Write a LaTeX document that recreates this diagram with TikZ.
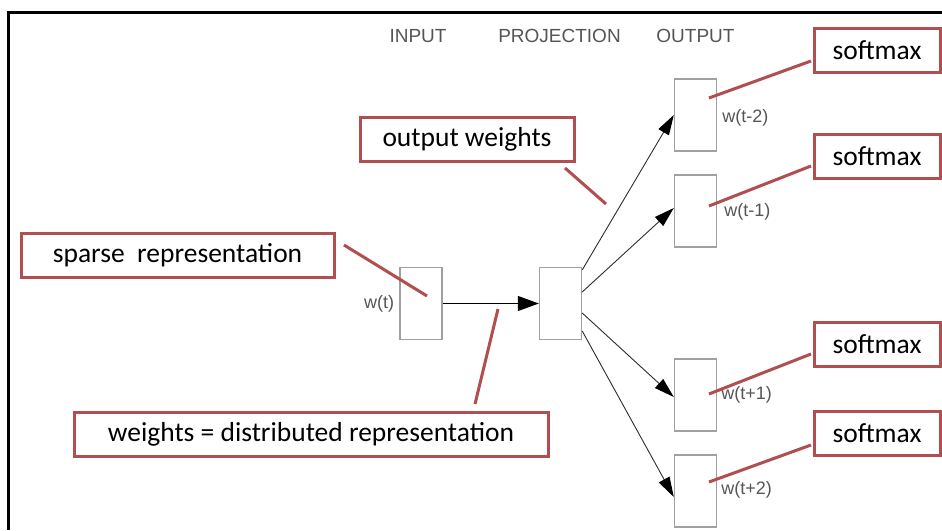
\documentclass[tikz,border=0pt]{standalone}
\usepackage{fontspec}
\setmainfont{Carlito}
\newfontfamily\labelfont{Liberation Sans}
\usetikzlibrary{arrows.meta,calc}
\definecolor{callred}{RGB}{176,78,80}
\definecolor{boxgray}{RGB}{160,160,160}
\definecolor{txtgray}{RGB}{85,85,85}
\definecolor{arrgray}{RGB}{45,45,45}
\tikzset{
  unit/.style={draw=boxgray, line width=1.4pt, minimum width=42pt, minimum height=72pt, inner sep=0pt},
  callout/.style={draw=callred, line width=3pt, fill=white, inner sep=0pt, minimum height=44pt,
    font=\fontsize{27.5}{30}\selectfont, text=black},
  pointer/.style={draw=callred, line width=3pt},
  layer/.style={font=\labelfont\fontsize{19}{22}\selectfont, text=txtgray},
  wlabel/.style={font=\labelfont\fontsize{18}{21}\selectfont, text=txtgray, inner sep=0pt},
  link/.style={draw=arrgray, line width=0.9pt, -{Triangle[length=20pt,width=12pt,fill=black,color=black]}}
}
\begin{document}
\begin{tikzpicture}[x=1pt,y=-1pt]
\useasboundingbox (0,0) rectangle (942,530);
% outer frame (left and top edges)
\draw[line width=3pt] (8,530) -- (8,12) -- (942,12);

% layer headings
\node[layer] (hin)   at (418,36)   {INPUT};
\node[layer] (hproj) at (559.5,36) {PROJECTION};
\node[layer] (hout)  at (695.5,36) {OUTPUT};

% network units
\node[unit] (in)   at (421,303.5)   {};
\node[unit] (proj) at (560.5,303.5) {};
\node[unit] (om2)  at (695.5,115)   {};
\node[unit] (om1)  at (695.5,211)   {};
\node[unit] (op1)  at (695.5,395)   {};
\node[unit] (op2)  at (695.5,491)   {};

% word labels
\node[wlabel, anchor=east] (lwt)  at ($(in.west)+(-5,0)$)  {w(t)};
\node[wlabel, anchor=west] (lm2)  at ($(om2.east)+(5,3)$)  {w(t-2)};
\node[wlabel, anchor=west] (lm1)  at ($(om1.east)+(7,1)$)  {w(t-1)};
\node[wlabel, anchor=west] (lp1)  at ($(op1.east)+(4,0)$)  {w(t+1)};
\node[wlabel, anchor=west] (lp2)  at ($(op2.east)+(4,-1)$) {w(t+2)};

% connections
\draw[black, line width=1.3pt, -{Triangle[length=21pt,width=15pt]}] (in.east) -- (proj.west);
\draw[link] ($(proj.east)+(0,-33.5)$) -- (om2.west);
\draw[link] ($(proj.east)+(0,-11.5)$) -- ($(om1.west)+(0,-3)$);
\draw[link] ($(proj.east)+(0,9.5)$)   -- ($(op1.west)+(0,2)$);
\draw[link] ($(proj.east)+(0,27.5)$)  -- ($(op2.west)+(0,6)$);

% annotation boxes
\node[callout, minimum width=126pt] (sm1) at (877,50)    {softmax};
\node[callout, minimum width=126pt] (sm2) at (877,156.5) {softmax};
\node[callout, minimum width=126pt] (sm3) at (877,344.5) {softmax};
\node[callout, minimum width=126pt] (sm4) at (877,433.5) {softmax};
\node[callout, minimum width=214pt] (ow)  at (467,139.5) {output weights};
\node[callout, minimum width=313pt] (sp)  at (177.5,255.5) {sparse\ \ representation};
\node[callout, minimum width=474pt] (dw)  at (311,434.5) {weights = distributed representation};

% annotation pointers
\coordinate (s1a) at (811,61);  \coordinate (s1b) at (709,98);
\coordinate (s2a) at (811,166); \coordinate (s2b) at (709,206);
\coordinate (s3a) at (811,354); \coordinate (s3b) at (709,394);
\coordinate (s4a) at (811,445); \coordinate (s4b) at (709,482);
\coordinate (owa) at (565,168); \coordinate (owb) at (606,204);
\coordinate (spa) at (344,245); \coordinate (spb) at (427,296);
\coordinate (dwa) at (498,309); \coordinate (dwb) at (475,404);
\draw[pointer] (s1a) -- (s1b);
\draw[pointer] (s2a) -- (s2b);
\draw[pointer] (s3a) -- (s3b);
\draw[pointer] (s4a) -- (s4b);
\draw[pointer] (owa) -- (owb);
\draw[pointer] (spa) -- (spb);
\draw[pointer] (dwa) -- (dwb);
\end{tikzpicture}
\end{document}
